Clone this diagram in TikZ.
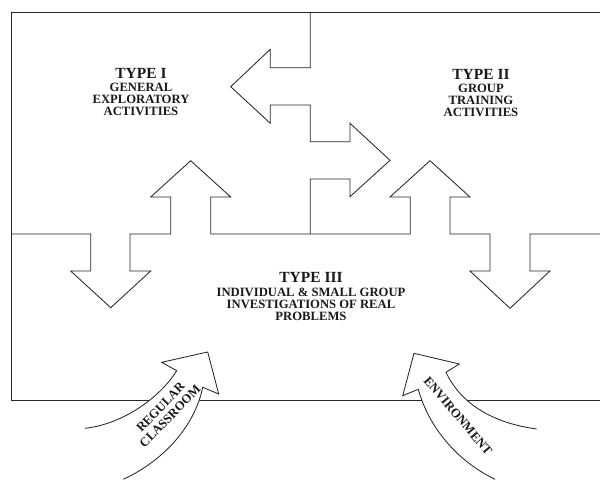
\documentclass[tikz,border=0pt]{standalone}
\usepackage{fontspec}
\setmainfont{Liberation Serif}

\begin{document}
\begin{tikzpicture}[x=0.025cm, y=-0.025cm, line width=0.6pt,
        outline/.style={draw=black!85, line join=miter},
        bendarrow/.style={draw=black!85, fill=white},
        typebox/.style={align=center, inner sep=0pt, text=black!90,
            font=\fontsize{9}{8.6}\selectfont\bfseries},
        typehead/.style={font=\fontsize{11}{11}\selectfont\bfseries},
        arrowtext/.style={align=center, inner sep=0pt, text=black!90,
            font=\fontsize{9}{9.4}\selectfont\bfseries},
    ]

\useasboundingbox (0,0) rectangle (600,480);

% frame, open on the right
\draw[outline] (600,12.3) -- (11,12.3) -- (11,400.7) -- (600,400.7);

% Type I / Type II border with the two side arrows
\draw[outline] (310.3,12.3) -- (310.3,67.7) -- (270.3,67.7) -- (270.3,49.3) -- (230.7,86.7)
    -- (270.3,123.3) -- (270.3,105) -- (310.3,105) -- (310.3,141.7) -- (350,141.7)
    -- (350,123.3) -- (390,160.3) -- (350,196.7) -- (350,179) -- (310.3,179) -- (310.3,234);

% Type III border with the up and down arrows
\draw[outline] (11,234) -- (90.7,234) -- (90.7,271) -- (70.7,271) -- (110.7,307.7)
    -- (150.7,271) -- (130,271) -- (130,234)
    -- (170.7,234) -- (170.7,197) -- (150.7,197) -- (190.7,160.7) -- (230.7,197)
    -- (210.7,197) -- (210.7,234)
    -- (410.3,234) -- (410.3,197) -- (390,197) -- (430,160.7) -- (470,197)
    -- (450,197) -- (450,234)
    -- (490,234) -- (490,271) -- (470,271) -- (510,308.3) -- (550,271)
    -- (530,271) -- (530,234) -- (600,234);

% curved arrows coming in from below
\path[bendarrow] (85,428.3) .. controls (125,424) and (162,395) .. (176.7,370.7)
    -- (161.7,362.3) -- (207.7,352) -- (218.7,394) -- (202.7,387.3)
    .. controls (195,425) and (165,460) .. (123.3,479.3);
\path[bendarrow] (536.7,429) .. controls (485,422) and (458,398) .. (446,372.3)
    -- (459.3,364) -- (414,353.3) -- (402.7,395.7) -- (418.3,389.3)
    .. controls (428,425) and (455,460) .. (495,479.3);

% labels
\node[typebox] (typeI) at (141,92)
    {{\fontsize{11}{11}\selectfont TYPE I}\\[0.8pt]GENERAL\\EXPLORATORY\\ACTIVITIES};
\node[typebox] (typeII) at (481,93)
    {{\fontsize{11}{11}\selectfont TYPE II}\\[0.8pt]GROUP\\TRAINING\\ACTIVITIES};
\node[typebox] (typeIII) at (311,296.5)
    {{\fontsize{11}{11}\selectfont TYPE III}\\[0.8pt]INDIVIDUAL \& SMALL GROUP\\INVESTIGATIONS OF REAL\\PROBLEMS};

\node[arrowtext, rotate=46] (classroom) at (165.3,411.7) {REGULAR\\CLASSROOM};
\node[arrowtext, rotate=-49.5] (environment) at (458,416) {ENVIRONMENT};

\end{tikzpicture}
\end{document}
